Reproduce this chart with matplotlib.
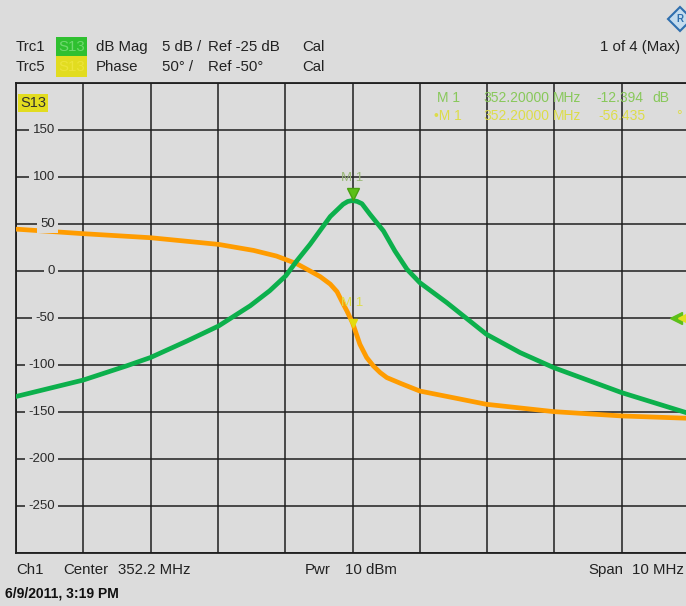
import numpy as np
import matplotlib
matplotlib.use("Agg")
import matplotlib.pyplot as plt
from matplotlib.patches import Rectangle, Polygon

plt.rcParams['font.family'] = ['Liberation Sans', 'DejaVu Sans']

# data (x in MHz, y in display units)
mag_f = [347.20, 347.23, 348.20, 348.84, 349.20, 349.74, 350.21, 350.68, 350.97,
         351.21, 351.37, 351.57, 351.87, 352.06, 352.13, 352.20, 352.27, 352.34,
         352.46, 352.66, 352.83, 353.01, 353.20, 353.60, 354.19, 354.69, 355.19,
         356.20, 357.16, 357.25]
mag_y = [-133.5, -133, -116, -101, -92, -74.5, -58.5, -37, -21, -5, 10.6, 28.4,
         58, 71, 74, 75, 74, 71.6, 60.3, 42.6, 21.3, 1.8, -12.4, -33.6, -67.3,
         -86.8, -102.8, -129.4, -150.7, -153]
ph_f = [347.20, 347.23, 348.20, 349.20, 350.21, 350.73, 351.07, 351.37, 351.57,
        351.72, 351.87, 351.97, 352.04, 352.12, 352.20, 352.31, 352.41, 352.51,
        352.61, 352.71, 352.93, 353.20, 354.19, 355.19, 356.20, 357.16, 357.25]
ph_y = [44.5, 44.4, 39.7, 35.4, 28.3, 21.9, 15.9, 7.8, 0, -6, -14, -22, -32,
        -43, -55, -78, -92, -101, -108, -113.4, -120, -127.7, -141.8, -149.6,
        -154.2, -156.6, -157]
yticks = [150, 100, 50, 0, -50, -100, -150, -200, -250]

bg = '#dcdcdc'
ink = '#222222'
W, H = 686, 606
fig = plt.figure(figsize=(W / 100, H / 100), dpi=100, facecolor=bg)

def px(x, y):
    return x / W, 1 - y / H

# plot area in pixels: left 16, top 83, 67.3 px per div, 10 divs
x0, y0, y1 = 16, 83, 553
ax = fig.add_axes([x0 / W, 1 - y1 / H, 673 / W, (y1 - y0) / H])
ax.set_facecolor(bg)
ax.set_xlim(347.2, 357.2)
ax.set_ylim(-300, 200)
ax.set_xticks(np.arange(347.2, 357.3, 1.0))
ax.set_yticks(np.arange(-300, 201, 50))
ax.grid(True, color='#1e1e1e', lw=1.1)
ax.tick_params(length=0, labelbottom=False, labelleft=False)
for s in ax.spines.values():
    s.set_color('#1e1e1e')
    s.set_linewidth(1.3)

ax.plot(ph_f, ph_y, color='#ff9c00', lw=3.4, solid_joinstyle='round', zorder=3)
ax.plot(mag_f, mag_y, color='#0cb04c', lw=3.4, solid_joinstyle='round', zorder=4)

for v in yticks:
    ax.text(347.78, v, str(v), ha='right', va='center', fontsize=9.5, color='#2a2a2a',
            bbox=dict(facecolor=bg, edgecolor='none', pad=2.5), zorder=5)

# markers
ax.plot([352.2], [82], marker='v', ms=9, color='#5cc018', mec='#48a010', zorder=6)
ax.text(352.2, 99, 'M 1', ha='center', va='center', fontsize=9.5, color='#9ab878', zorder=6)
ax.plot([352.2], [-55], marker='v', ms=6, color='#e4dc10', zorder=6)
ax.text(352.2, -34, 'M 1', ha='center', va='center', fontsize=9.5, color='#dede48', zorder=6)
ax.plot([357.0], [-50], marker='<', ms=8, color='#5cc018', zorder=6, clip_on=False)
ax.plot([357.12], [-50], marker='<', ms=8, color='#e4e020', zorder=6, clip_on=False)

# S13 tag
fig.text(*px(20, 103), 'S13', fontsize=10.5, va='center', color='#303030',
         bbox=dict(facecolor='#e2dc20', edgecolor='none', pad=1.5), zorder=6)

# marker readout
g = '#88c85a'
yl = '#dcdc4a'
for x, s in [(437, 'M 1'), (483, '352.20000'), (553, 'MHz'), (596, '-12.394'), (652, 'dB')]:
    fig.text(*px(x, 98), s, fontsize=10, va='center', color=g, zorder=6)
for x, s in [(434, '\u2022M 1'), (483, '352.20000'), (553, 'MHz'), (598, '-56.435'), (676, '\u00b0')]:
    fig.text(*px(x, 116), s, fontsize=10, va='center', color=yl, zorder=6)

# header
fs = 10.8
fig.patches.append(Rectangle(px(56, 56), 31 / W, 19 / H, transform=fig.transFigure,
                             facecolor='#2fc030', edgecolor='none'))
fig.patches.append(Rectangle(px(56, 77), 31 / W, 21 / H, transform=fig.transFigure,
                             facecolor='#e2dc20', edgecolor='none'))
fig.text(*px(58, 47), 'S13', fontsize=fs, va='center', color='#70d870')
fig.text(*px(58, 67), 'S13', fontsize=fs, va='center', color='#ece43a')
for x, s1, s2 in [(16, 'Trc1', 'Trc5'), (96, 'dB Mag', 'Phase'), (162, '5 dB /', '50\u00b0 /'),
                  (208, 'Ref -25 dB', 'Ref -50\u00b0'), (302, 'Cal', 'Cal')]:
    fig.text(*px(x, 47), s1, fontsize=fs, va='center', color=ink)
    fig.text(*px(x, 67), s2, fontsize=fs, va='center', color=ink)
fig.text(*px(600, 47), '1 of 4 (Max)', fontsize=fs, va='center', color=ink)

# logo
cx, cy, r = 680, 19, 12
fig.patches.append(Polygon([px(cx, cy - r), px(cx + r, cy), px(cx, cy + r), px(cx - r, cy)],
                           closed=True, transform=fig.transFigure,
                           facecolor='#c4dcee', edgecolor='#2f6fae', lw=1.5))
fig.text(*px(cx, cy), 'R', fontsize=7, va='center', ha='center', color='#2f6fae',
         fontweight='bold')

# footer
for x, s in [(16, 'Ch1'), (63, 'Center'), (118, '352.2 MHz'), (305, 'Pwr'),
             (345, '10 dBm'), (588, 'Span'), (632, '10 MHz')]:
    fig.text(*px(x, 570), s, fontsize=fs, va='center', color=ink)
fig.text(*px(5, 593), '6/9/2011, 3:19 PM', fontsize=10, va='center', color='#101010',
         fontweight='bold')

fig.savefig('out.png', dpi=100, facecolor=bg)
